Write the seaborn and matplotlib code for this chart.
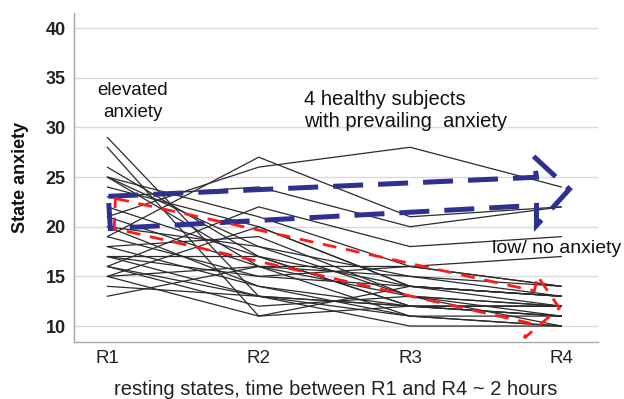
import matplotlib
matplotlib.use("Agg")
import matplotlib.pyplot as plt
import seaborn as sns
import pandas as pd
import numpy as np
from matplotlib.patches import Polygon

# ---- data ----
states = ["R1", "R2", "R3", "R4"]
r1 = [29, 28, 26, 25, 25, 25, 24, 21, 19, 23, 16, 22, 21, 20, 19, 18, 18, 17, 17, 16, 15, 15, 15, 14, 13, 17, 20, 16]
r2 = [13, 11, 17, 18, 16, 21, 20, 26, 27, 24, 22, 17, 16, 18, 15, 19, 14, 15, 13, 13, 20, 16, 11, 13, 16, 17, 14, 12]
r3 = [12, 12, 14, 15, 11, 16, 14, 28, 21, 20, 18, 12, 15, 13, 14, 13, 12, 16, 11, 12, 14, 13, 14, 10, 16, 12, 11, 13]
r4 = [11, 12, 13, 14, 10, 14, 13, 24, 22, 22, 19, 12, 13, 11, 12, 10, 11, 14, 10, 12, 13, 12, 13, 10, 17, 11, 11, 12]

# annotation outlines (data coords)
blue_x = [1.007, 3.835, 3.815, 4.052, 3.835, 3.835, 1.02]
blue_y = [23.06, 24.98, 27.1, 23.77, 20.12, 22.15, 19.82]
red_x = [1.053, 3.821, 3.841, 3.986, 3.755, 3.788, 1.046]
red_y = [22.85, 13.54, 15.06, 11.82, 8.79, 10.30, 19.82]

yticks = [10, 15, 20, 25, 30, 35, 40]

rows = []
for s, vals in enumerate(zip(r1, r2, r3, r4)):
    for i, v in enumerate(vals):
        rows.append({"subject": s, "pos": i + 1, "value": v})
df = pd.DataFrame(rows)

sns.set_theme(style="white")
plt.rcParams["font.family"] = ["Liberation Sans", "DejaVu Sans"]

fig = plt.figure(figsize=(6.24, 3.99), dpi=100)
ax = fig.add_axes([0.1186, 0.143, 0.958 - 0.1186, 0.967 - 0.143])

sns.lineplot(data=df, x="pos", y="value", units="subject", estimator=None,
             color="#2b2b2b", linewidth=0.9, ax=ax, legend=False)

ax.set_xlim(0.78, 4.24)
ax.set_ylim(8.4, 41.5)
ax.set_xticks(range(1, len(states) + 1))
ax.set_xticklabels(states, fontsize=13.5, color="#222222")
ax.set_yticks(yticks)
ax.set_yticklabels([str(t) for t in yticks], fontsize=13, color="#222222", fontweight="bold")
ax.tick_params(axis="both", length=0, pad=6)

for t in yticks:
    ax.axhline(t, color="#d9d9d9", lw=1.0, zorder=0)

for side in ["top", "right"]:
    ax.spines[side].set_visible(False)
for side in ["left", "bottom"]:
    ax.spines[side].set_color("#a6a6a6")
    ax.spines[side].set_linewidth(1.0)

ax.set_xlabel("resting states, time between R1 and R4 ~ 2 hours", fontsize=14.5, color="#222222", labelpad=9)
ax.set_ylabel("State anxiety", fontsize=13, fontweight="bold", color="#111111", labelpad=12)

blue = Polygon(np.column_stack([blue_x, blue_y]), closed=True, fill=False,
               edgecolor="#2e3192", linewidth=3.6, linestyle=(0, (6, 3)), clip_on=False, zorder=5)
ax.add_patch(blue)
red = Polygon(np.column_stack([red_x, red_y]), closed=True, fill=False,
              edgecolor="#ff1a1a", linewidth=2.0, linestyle=(0, (5, 3.5)), clip_on=False, zorder=5)
ax.add_patch(red)

ax.text(1.17, 32.6, "elevated\nanxiety", fontsize=13.5, color="#111111", va="center", ha="center",
        multialignment="center", linespacing=1.35)
ax.text(2.30, 31.7, "4 healthy subjects\nwith prevailing  anxiety", fontsize=14.5, color="#111111",
        va="center", ha="left", linespacing=1.2)
ax.text(3.54, 17.8, "low/ no anxiety", fontsize=14, color="#111111", va="center", ha="left")

fig.savefig("out.png", dpi=100)
